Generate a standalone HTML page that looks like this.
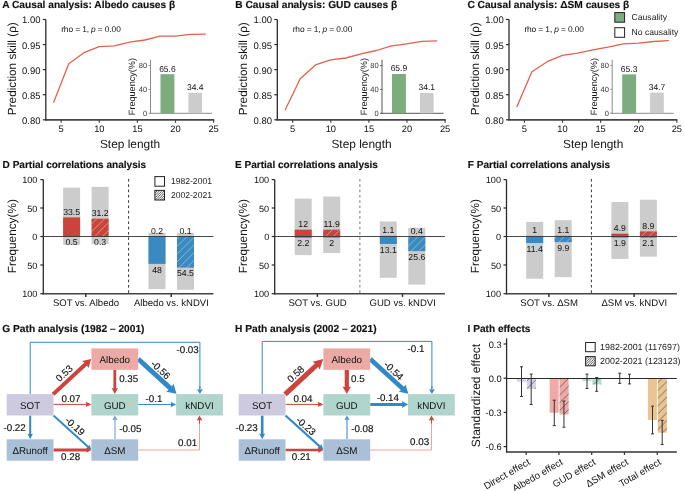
<!DOCTYPE html>
<html><head><meta charset="utf-8"><style>
html,body{margin:0;padding:0;background:#fff;}
svg{display:block;will-change:transform;}
text{font-family:"Liberation Sans", sans-serif;text-rendering:geometricPrecision;}
text.sk{stroke:#111;stroke-width:0.15px;}
</style></head><body>
<svg width="685" height="491" viewBox="0 0 685 491" font-family='"Liberation Sans", sans-serif'>
<rect width="685" height="491" fill="#fff"/>
<defs>
<pattern id="hw" patternUnits="userSpaceOnUse" width="7.7" height="7.7" patternTransform="rotate(0)">
<path d="M-1,8.7 L8.7,-1 M-1,1 L1,-1 M6.7,8.7 L8.7,6.7" stroke="rgba(255,255,255,0.62)" stroke-width="0.65"/>
</pattern>
<pattern id="hi" patternUnits="userSpaceOnUse" width="7.8" height="7.8" x="0.6" y="2.5">
<path d="M-1,8.8 L8.8,-1 M-1,1 L1,-1 M6.8,8.8 L8.8,6.8" stroke="rgba(40,40,40,0.7)" stroke-width="0.8"/>
</pattern>
<pattern id="hd" patternUnits="userSpaceOnUse" width="2.4" height="2.4">
<rect width="2.4" height="2.4" fill="#fff"/>
<path d="M-0.5,2.9 L2.9,-0.5 M-0.5,0.5 L0.5,-0.5 M1.9,2.9 L2.9,1.9" stroke="#333" stroke-width="0.8"/>
</pattern>
</defs>
<text x="2.20" y="7.55" font-size="10.2" text-anchor="start" font-weight="bold" class="sk" fill="#111">A Causal analysis: Albedo causes β</text>
<line x1="45.80" y1="19.50" x2="45.80" y2="120.60" stroke="#2a2a2a" stroke-width="1.3"/>
<line x1="45.20" y1="119.80" x2="214.20" y2="119.80" stroke="#444" stroke-width="1.7"/>
<line x1="42.80" y1="19.50" x2="45.80" y2="19.50" stroke="#2a2a2a" stroke-width="1.2"/>
<text x="40.50" y="23.45" font-size="9.5" text-anchor="end" fill="#111">1.00</text>
<line x1="42.80" y1="44.58" x2="45.80" y2="44.58" stroke="#2a2a2a" stroke-width="1.2"/>
<text x="40.50" y="48.53" font-size="9.5" text-anchor="end" fill="#111">0.95</text>
<line x1="42.80" y1="69.65" x2="45.80" y2="69.65" stroke="#2a2a2a" stroke-width="1.2"/>
<text x="40.50" y="73.60" font-size="9.5" text-anchor="end" fill="#111">0.90</text>
<line x1="42.80" y1="94.72" x2="45.80" y2="94.72" stroke="#2a2a2a" stroke-width="1.2"/>
<text x="40.50" y="98.67" font-size="9.5" text-anchor="end" fill="#111">0.85</text>
<line x1="42.80" y1="119.80" x2="45.80" y2="119.80" stroke="#2a2a2a" stroke-width="1.2"/>
<text x="40.50" y="123.75" font-size="9.5" text-anchor="end" fill="#111">0.80</text>
<line x1="61.20" y1="119.80" x2="61.20" y2="122.80" stroke="#444" stroke-width="1.2"/>
<text x="61.20" y="132.00" font-size="9.3" text-anchor="middle" fill="#111">5</text>
<line x1="99.30" y1="119.80" x2="99.30" y2="122.80" stroke="#444" stroke-width="1.2"/>
<text x="99.30" y="132.00" font-size="9.3" text-anchor="middle" fill="#111">10</text>
<line x1="137.40" y1="119.80" x2="137.40" y2="122.80" stroke="#444" stroke-width="1.2"/>
<text x="137.40" y="132.00" font-size="9.3" text-anchor="middle" fill="#111">15</text>
<line x1="175.50" y1="119.80" x2="175.50" y2="122.80" stroke="#444" stroke-width="1.2"/>
<text x="175.50" y="132.00" font-size="9.3" text-anchor="middle" fill="#111">20</text>
<line x1="213.60" y1="119.80" x2="213.60" y2="122.80" stroke="#444" stroke-width="1.2"/>
<text x="213.60" y="132.00" font-size="9.3" text-anchor="middle" fill="#111">25</text>
<text x="130.00" y="148.00" font-size="11.9" text-anchor="middle" fill="#111" class="big">Step length</text>
<text x="16.30" y="68.70" font-size="11.75" text-anchor="middle" fill="#111" transform="rotate(-90 16.30 68.70)" class="big">Prediction skill (ρ)</text>
<polyline points="53.50,102.70 68.72,63.80 83.94,52.70 99.16,46.60 114.38,45.80 129.60,42.20 144.82,40.00 160.04,36.10 175.26,36.10 190.48,34.40 205.70,34.10" fill="none" stroke="#e5604c" stroke-width="1.3" stroke-linejoin="round"/>
<text x="61.20" y="31.7" font-size="8.4" fill="#111" textLength="59.6" lengthAdjust="spacing">rho = 1, <tspan font-style="italic">p</tspan> = 0.00</text>
<line x1="150.50" y1="59.80" x2="150.50" y2="113.80" stroke="#8a8a8a" stroke-width="1.0"/>
<line x1="150.00" y1="113.30" x2="212.00" y2="113.30" stroke="#8a8a8a" stroke-width="1.0"/>
<line x1="148.50" y1="113.30" x2="150.50" y2="113.30" stroke="#8a8a8a" stroke-width="0.9"/>
<text x="147.20" y="116.10" font-size="7.5" text-anchor="end" fill="#333">0</text>
<line x1="148.50" y1="89.45" x2="150.50" y2="89.45" stroke="#8a8a8a" stroke-width="0.9"/>
<text x="147.20" y="92.25" font-size="7.5" text-anchor="end" fill="#333">40</text>
<line x1="148.50" y1="65.60" x2="150.50" y2="65.60" stroke="#8a8a8a" stroke-width="0.9"/>
<text x="147.20" y="68.40" font-size="7.5" text-anchor="end" fill="#333">80</text>
<rect x="160.50" y="74.19" width="13.90" height="39.11" fill="#7dac7e"/>
<rect x="188.40" y="92.79" width="13.70" height="20.51" fill="#cccccc"/>
<text x="167.40" y="71.59" font-size="8.5" text-anchor="middle" fill="#111">65.6</text>
<text x="195.30" y="89.99" font-size="8.5" text-anchor="middle" fill="#111">34.4</text>
<text x="135.20" y="86.60" font-size="9.1" text-anchor="middle" fill="#111" transform="rotate(-90 135.20 86.60)">Frequency(%)</text>
<text x="235.30" y="7.55" font-size="10.2" text-anchor="start" font-weight="bold" class="sk" fill="#111">B Causal analysis: GUD causes β</text>
<line x1="277.30" y1="19.50" x2="277.30" y2="120.60" stroke="#2a2a2a" stroke-width="1.3"/>
<line x1="276.70" y1="119.80" x2="445.70" y2="119.80" stroke="#444" stroke-width="1.7"/>
<line x1="274.30" y1="19.50" x2="277.30" y2="19.50" stroke="#2a2a2a" stroke-width="1.2"/>
<text x="272.00" y="23.45" font-size="9.5" text-anchor="end" fill="#111">1.00</text>
<line x1="274.30" y1="44.58" x2="277.30" y2="44.58" stroke="#2a2a2a" stroke-width="1.2"/>
<text x="272.00" y="48.53" font-size="9.5" text-anchor="end" fill="#111">0.95</text>
<line x1="274.30" y1="69.65" x2="277.30" y2="69.65" stroke="#2a2a2a" stroke-width="1.2"/>
<text x="272.00" y="73.60" font-size="9.5" text-anchor="end" fill="#111">0.90</text>
<line x1="274.30" y1="94.72" x2="277.30" y2="94.72" stroke="#2a2a2a" stroke-width="1.2"/>
<text x="272.00" y="98.67" font-size="9.5" text-anchor="end" fill="#111">0.85</text>
<line x1="274.30" y1="119.80" x2="277.30" y2="119.80" stroke="#2a2a2a" stroke-width="1.2"/>
<text x="272.00" y="123.75" font-size="9.5" text-anchor="end" fill="#111">0.80</text>
<line x1="292.70" y1="119.80" x2="292.70" y2="122.80" stroke="#444" stroke-width="1.2"/>
<text x="292.70" y="132.00" font-size="9.3" text-anchor="middle" fill="#111">5</text>
<line x1="330.80" y1="119.80" x2="330.80" y2="122.80" stroke="#444" stroke-width="1.2"/>
<text x="330.80" y="132.00" font-size="9.3" text-anchor="middle" fill="#111">10</text>
<line x1="368.90" y1="119.80" x2="368.90" y2="122.80" stroke="#444" stroke-width="1.2"/>
<text x="368.90" y="132.00" font-size="9.3" text-anchor="middle" fill="#111">15</text>
<line x1="407.00" y1="119.80" x2="407.00" y2="122.80" stroke="#444" stroke-width="1.2"/>
<text x="407.00" y="132.00" font-size="9.3" text-anchor="middle" fill="#111">20</text>
<line x1="445.10" y1="119.80" x2="445.10" y2="122.80" stroke="#444" stroke-width="1.2"/>
<text x="445.10" y="132.00" font-size="9.3" text-anchor="middle" fill="#111">25</text>
<text x="361.50" y="148.00" font-size="11.9" text-anchor="middle" fill="#111" class="big">Step length</text>
<text x="246.90" y="68.70" font-size="11.75" text-anchor="middle" fill="#111" transform="rotate(-90 246.90 68.70)" class="big">Prediction skill (ρ)</text>
<polyline points="285.00,110.20 300.22,78.80 315.44,64.90 330.66,59.90 345.88,58.00 361.10,53.80 376.32,50.50 391.54,45.80 406.76,43.90 421.98,41.40 437.20,40.80" fill="none" stroke="#e5604c" stroke-width="1.3" stroke-linejoin="round"/>
<text x="292.70" y="31.7" font-size="8.4" fill="#111" textLength="59.6" lengthAdjust="spacing">rho = 1, <tspan font-style="italic">p</tspan> = 0.00</text>
<line x1="382.00" y1="59.80" x2="382.00" y2="113.80" stroke="#555" stroke-width="1.0"/>
<line x1="381.50" y1="113.30" x2="443.50" y2="113.30" stroke="#555" stroke-width="1.0"/>
<line x1="380.00" y1="113.30" x2="382.00" y2="113.30" stroke="#555" stroke-width="0.9"/>
<text x="378.70" y="116.10" font-size="7.5" text-anchor="end" fill="#333">0</text>
<line x1="380.00" y1="89.45" x2="382.00" y2="89.45" stroke="#555" stroke-width="0.9"/>
<text x="378.70" y="92.25" font-size="7.5" text-anchor="end" fill="#333">40</text>
<line x1="380.00" y1="65.60" x2="382.00" y2="65.60" stroke="#555" stroke-width="0.9"/>
<text x="378.70" y="68.40" font-size="7.5" text-anchor="end" fill="#333">80</text>
<rect x="392.00" y="74.01" width="13.90" height="39.29" fill="#7dac7e"/>
<rect x="419.90" y="92.97" width="13.70" height="20.33" fill="#cccccc"/>
<text x="398.90" y="71.41" font-size="8.5" text-anchor="middle" fill="#111">65.9</text>
<text x="426.80" y="90.17" font-size="8.5" text-anchor="middle" fill="#111">34.1</text>
<text x="366.70" y="86.60" font-size="9.1" text-anchor="middle" fill="#111" transform="rotate(-90 366.70 86.60)">Frequency(%)</text>
<text x="467.40" y="7.55" font-size="10.2" text-anchor="start" font-weight="bold" class="sk" fill="#111">C Causal analysis: ΔSM causes β</text>
<line x1="509.00" y1="19.50" x2="509.00" y2="120.60" stroke="#2a2a2a" stroke-width="1.3"/>
<line x1="508.40" y1="119.80" x2="677.40" y2="119.80" stroke="#444" stroke-width="1.7"/>
<line x1="506.00" y1="19.50" x2="509.00" y2="19.50" stroke="#2a2a2a" stroke-width="1.2"/>
<text x="503.70" y="23.45" font-size="9.5" text-anchor="end" fill="#111">1.00</text>
<line x1="506.00" y1="44.58" x2="509.00" y2="44.58" stroke="#2a2a2a" stroke-width="1.2"/>
<text x="503.70" y="48.53" font-size="9.5" text-anchor="end" fill="#111">0.95</text>
<line x1="506.00" y1="69.65" x2="509.00" y2="69.65" stroke="#2a2a2a" stroke-width="1.2"/>
<text x="503.70" y="73.60" font-size="9.5" text-anchor="end" fill="#111">0.90</text>
<line x1="506.00" y1="94.72" x2="509.00" y2="94.72" stroke="#2a2a2a" stroke-width="1.2"/>
<text x="503.70" y="98.67" font-size="9.5" text-anchor="end" fill="#111">0.85</text>
<line x1="506.00" y1="119.80" x2="509.00" y2="119.80" stroke="#2a2a2a" stroke-width="1.2"/>
<text x="503.70" y="123.75" font-size="9.5" text-anchor="end" fill="#111">0.80</text>
<line x1="524.40" y1="119.80" x2="524.40" y2="122.80" stroke="#444" stroke-width="1.2"/>
<text x="524.40" y="132.00" font-size="9.3" text-anchor="middle" fill="#111">5</text>
<line x1="562.50" y1="119.80" x2="562.50" y2="122.80" stroke="#444" stroke-width="1.2"/>
<text x="562.50" y="132.00" font-size="9.3" text-anchor="middle" fill="#111">10</text>
<line x1="600.60" y1="119.80" x2="600.60" y2="122.80" stroke="#444" stroke-width="1.2"/>
<text x="600.60" y="132.00" font-size="9.3" text-anchor="middle" fill="#111">15</text>
<line x1="638.70" y1="119.80" x2="638.70" y2="122.80" stroke="#444" stroke-width="1.2"/>
<text x="638.70" y="132.00" font-size="9.3" text-anchor="middle" fill="#111">20</text>
<line x1="676.80" y1="119.80" x2="676.80" y2="122.80" stroke="#444" stroke-width="1.2"/>
<text x="676.80" y="132.00" font-size="9.3" text-anchor="middle" fill="#111">25</text>
<text x="593.20" y="148.00" font-size="11.9" text-anchor="middle" fill="#111" class="big">Step length</text>
<text x="478.60" y="68.70" font-size="11.75" text-anchor="middle" fill="#111" transform="rotate(-90 478.60 68.70)" class="big">Prediction skill (ρ)</text>
<polyline points="516.70,107.10 531.92,71.80 547.14,61.70 562.36,55.30 577.58,53.20 592.80,49.80 608.02,47.10 623.24,43.90 638.46,43.10 653.68,41.50 668.90,40.70" fill="none" stroke="#e5604c" stroke-width="1.3" stroke-linejoin="round"/>
<text x="524.40" y="31.7" font-size="8.4" fill="#111" textLength="59.6" lengthAdjust="spacing">rho = 1, <tspan font-style="italic">p</tspan> = 0.00</text>
<line x1="612.20" y1="59.80" x2="612.20" y2="113.80" stroke="#8a8a8a" stroke-width="1.0"/>
<line x1="611.70" y1="113.30" x2="673.70" y2="113.30" stroke="#8a8a8a" stroke-width="1.0"/>
<line x1="610.20" y1="113.30" x2="612.20" y2="113.30" stroke="#8a8a8a" stroke-width="0.9"/>
<text x="608.90" y="116.10" font-size="7.5" text-anchor="end" fill="#333">0</text>
<line x1="610.20" y1="89.45" x2="612.20" y2="89.45" stroke="#8a8a8a" stroke-width="0.9"/>
<text x="608.90" y="92.25" font-size="7.5" text-anchor="end" fill="#333">40</text>
<line x1="610.20" y1="65.60" x2="612.20" y2="65.60" stroke="#8a8a8a" stroke-width="0.9"/>
<text x="608.90" y="68.40" font-size="7.5" text-anchor="end" fill="#333">80</text>
<rect x="622.20" y="74.36" width="13.90" height="38.94" fill="#7dac7e"/>
<rect x="650.10" y="92.61" width="13.70" height="20.69" fill="#cccccc"/>
<text x="629.10" y="71.76" font-size="8.5" text-anchor="middle" fill="#111">65.3</text>
<text x="657.00" y="89.81" font-size="8.5" text-anchor="middle" fill="#111">34.7</text>
<text x="596.90" y="86.60" font-size="9.1" text-anchor="middle" fill="#111" transform="rotate(-90 596.90 86.60)">Frequency(%)</text>
<rect x="614.8" y="12.6" width="9.8" height="9.6" fill="#7dac7e" stroke="#222" stroke-width="1"/>
<rect x="614.8" y="27.7" width="9.8" height="9.6" fill="#fff" stroke="#222" stroke-width="1"/>
<text x="631.60" y="19.60" font-size="8.6" text-anchor="start" fill="#222">Causality</text>
<text x="631.60" y="35.00" font-size="8.6" text-anchor="start" fill="#222">No causality</text>
<text x="2.60" y="167.50" font-size="10.05" text-anchor="start" font-weight="bold" class="sk" fill="#111">D Partial correlations analysis</text>
<rect x="63.10" y="187.61" width="17.00" height="57.22" fill="#cccccc"/>
<rect x="63.10" y="217.39" width="17.00" height="19.11" fill="#c9443b"/>
<rect x="63.10" y="236.50" width="17.00" height="0.29" fill="#3a89c0"/>
<text x="71.60" y="214.69" font-size="8.7" text-anchor="middle" fill="#111">33.5</text>
<text x="71.60" y="245.49" font-size="8.7" text-anchor="middle" fill="#111">0.5</text>
<rect x="91.60" y="186.81" width="17.00" height="57.11" fill="#cccccc"/>
<rect x="91.60" y="218.70" width="17.00" height="17.80" fill="#c9443b"/>
<rect x="91.60" y="236.50" width="17.00" height="0.17" fill="#3a89c0"/>
<rect x="91.60" y="218.70" width="17.00" height="17.80" fill="url(#hw)"/>
<rect x="91.60" y="236.50" width="17.00" height="0.17" fill="url(#hw)"/>
<text x="100.10" y="216.00" font-size="8.7" text-anchor="middle" fill="#111">31.2</text>
<text x="100.10" y="245.37" font-size="8.7" text-anchor="middle" fill="#111">0.3</text>
<rect x="148.50" y="232.73" width="17.00" height="56.42" fill="#cccccc"/>
<rect x="148.50" y="236.39" width="17.00" height="0.11" fill="#c9443b"/>
<rect x="148.50" y="236.50" width="17.00" height="27.38" fill="#3a89c0"/>
<text x="157.00" y="233.69" font-size="8.7" text-anchor="middle" fill="#111">0.2</text>
<text x="157.00" y="272.58" font-size="8.7" text-anchor="middle" fill="#111">48</text>
<rect x="177.00" y="232.73" width="17.00" height="57.05" fill="#cccccc"/>
<rect x="177.00" y="236.44" width="17.00" height="0.06" fill="#c9443b"/>
<rect x="177.00" y="236.50" width="17.00" height="31.09" fill="#3a89c0"/>
<rect x="177.00" y="236.44" width="17.00" height="0.06" fill="url(#hw)"/>
<rect x="177.00" y="236.50" width="17.00" height="31.09" fill="url(#hw)"/>
<text x="185.50" y="233.74" font-size="8.7" text-anchor="middle" fill="#111">0.1</text>
<text x="185.50" y="276.29" font-size="8.7" text-anchor="middle" fill="#111">54.5</text>
<line x1="43.30" y1="179.60" x2="43.30" y2="294.40" stroke="#2a2a2a" stroke-width="1.3"/>
<line x1="42.70" y1="293.70" x2="213.40" y2="293.70" stroke="#444" stroke-width="1.5"/>
<line x1="43.30" y1="236.50" x2="213.40" y2="236.50" stroke="#333" stroke-width="0.9"/>
<line x1="40.30" y1="179.60" x2="43.30" y2="179.60" stroke="#2a2a2a" stroke-width="1.2"/>
<text x="37.40" y="183.20" font-size="9.1" text-anchor="end" fill="#111">100</text>
<line x1="40.30" y1="208.00" x2="43.30" y2="208.00" stroke="#2a2a2a" stroke-width="1.2"/>
<text x="37.40" y="211.60" font-size="9.1" text-anchor="end" fill="#111">50</text>
<line x1="40.30" y1="236.50" x2="43.30" y2="236.50" stroke="#2a2a2a" stroke-width="1.2"/>
<text x="37.40" y="240.10" font-size="9.1" text-anchor="end" fill="#111">0</text>
<line x1="40.30" y1="265.00" x2="43.30" y2="265.00" stroke="#2a2a2a" stroke-width="1.2"/>
<text x="37.40" y="268.60" font-size="9.1" text-anchor="end" fill="#111">50</text>
<line x1="40.30" y1="293.70" x2="43.30" y2="293.70" stroke="#2a2a2a" stroke-width="1.2"/>
<text x="37.40" y="297.30" font-size="9.1" text-anchor="end" fill="#111">100</text>
<line x1="128.60" y1="179.00" x2="128.60" y2="293.70" stroke="#333" stroke-width="1.0" stroke-dasharray="2.6 2.7"/>
<line x1="85.80" y1="293.70" x2="85.80" y2="296.90" stroke="#333" stroke-width="1.5"/>
<text x="86.00" y="305.90" font-size="9.55" text-anchor="middle" fill="#111">SOT vs. Albedo</text>
<line x1="171.20" y1="293.70" x2="171.20" y2="296.90" stroke="#333" stroke-width="1.5"/>
<text x="171.40" y="305.90" font-size="9.55" text-anchor="middle" fill="#111">Albedo vs. kNDVI</text>
<text x="15.70" y="236.20" font-size="11.8" text-anchor="middle" fill="#111" transform="rotate(-90 15.70 236.20)" class="big">Frequency(%)</text>
<text x="235.00" y="167.50" font-size="10.05" text-anchor="start" font-weight="bold" class="sk" fill="#111">E Partial correlations analysis</text>
<rect x="294.70" y="198.62" width="17.00" height="56.48" fill="#cccccc"/>
<rect x="294.70" y="229.65" width="17.00" height="6.85" fill="#c9443b"/>
<rect x="294.70" y="236.50" width="17.00" height="1.26" fill="#3a89c0"/>
<text x="303.20" y="226.95" font-size="8.7" text-anchor="middle" fill="#111">12</text>
<text x="303.20" y="246.46" font-size="8.7" text-anchor="middle" fill="#111">2.2</text>
<rect x="323.20" y="196.56" width="17.00" height="56.48" fill="#cccccc"/>
<rect x="323.20" y="229.71" width="17.00" height="6.79" fill="#c9443b"/>
<rect x="323.20" y="236.50" width="17.00" height="1.14" fill="#3a89c0"/>
<rect x="323.20" y="229.71" width="17.00" height="6.79" fill="url(#hw)"/>
<rect x="323.20" y="236.50" width="17.00" height="1.14" fill="url(#hw)"/>
<text x="331.70" y="227.01" font-size="8.7" text-anchor="middle" fill="#111">11.9</text>
<text x="331.70" y="246.34" font-size="8.7" text-anchor="middle" fill="#111">2</text>
<rect x="379.80" y="221.44" width="17.00" height="56.37" fill="#cccccc"/>
<rect x="379.80" y="235.87" width="17.00" height="0.63" fill="#c9443b"/>
<rect x="379.80" y="236.50" width="17.00" height="7.47" fill="#3a89c0"/>
<text x="388.30" y="233.17" font-size="8.7" text-anchor="middle" fill="#111">1.1</text>
<text x="388.30" y="252.67" font-size="8.7" text-anchor="middle" fill="#111">13.1</text>
<rect x="408.30" y="227.71" width="17.00" height="56.88" fill="#cccccc"/>
<rect x="408.30" y="236.27" width="17.00" height="0.23" fill="#c9443b"/>
<rect x="408.30" y="236.50" width="17.00" height="14.60" fill="#3a89c0"/>
<rect x="408.30" y="236.27" width="17.00" height="0.23" fill="url(#hw)"/>
<rect x="408.30" y="236.50" width="17.00" height="14.60" fill="url(#hw)"/>
<text x="416.80" y="233.57" font-size="8.7" text-anchor="middle" fill="#111">0.4</text>
<text x="416.80" y="259.80" font-size="8.7" text-anchor="middle" fill="#111">25.6</text>
<line x1="274.70" y1="179.60" x2="274.70" y2="294.40" stroke="#2a2a2a" stroke-width="1.3"/>
<line x1="274.10" y1="293.70" x2="444.90" y2="293.70" stroke="#444" stroke-width="1.5"/>
<line x1="274.70" y1="236.50" x2="444.90" y2="236.50" stroke="#333" stroke-width="0.9"/>
<line x1="271.70" y1="179.60" x2="274.70" y2="179.60" stroke="#2a2a2a" stroke-width="1.2"/>
<text x="269.20" y="183.20" font-size="9.1" text-anchor="end" fill="#111">100</text>
<line x1="271.70" y1="208.00" x2="274.70" y2="208.00" stroke="#2a2a2a" stroke-width="1.2"/>
<text x="269.20" y="211.60" font-size="9.1" text-anchor="end" fill="#111">50</text>
<line x1="271.70" y1="236.50" x2="274.70" y2="236.50" stroke="#2a2a2a" stroke-width="1.2"/>
<text x="269.20" y="240.10" font-size="9.1" text-anchor="end" fill="#111">0</text>
<line x1="271.70" y1="265.00" x2="274.70" y2="265.00" stroke="#2a2a2a" stroke-width="1.2"/>
<text x="269.20" y="268.60" font-size="9.1" text-anchor="end" fill="#111">50</text>
<line x1="271.70" y1="293.70" x2="274.70" y2="293.70" stroke="#2a2a2a" stroke-width="1.2"/>
<text x="269.20" y="297.30" font-size="9.1" text-anchor="end" fill="#111">100</text>
<line x1="359.80" y1="179.00" x2="359.80" y2="293.70" stroke="#aaa" stroke-width="1.6" stroke-dasharray="2.6 2.7"/>
<line x1="317.40" y1="293.70" x2="317.40" y2="296.90" stroke="#333" stroke-width="1.5"/>
<text x="317.60" y="305.90" font-size="9.55" text-anchor="middle" fill="#111">SOT vs. GUD</text>
<line x1="402.50" y1="293.70" x2="402.50" y2="296.90" stroke="#333" stroke-width="1.5"/>
<text x="402.70" y="305.90" font-size="9.55" text-anchor="middle" fill="#111">GUD vs. kNDVI</text>
<text x="246.80" y="236.20" font-size="11.8" text-anchor="middle" fill="#111" transform="rotate(-90 246.80 236.20)" class="big">Frequency(%)</text>
<text x="467.80" y="167.50" font-size="10.05" text-anchor="start" font-weight="bold" class="sk" fill="#111">F Partial correlations analysis</text>
<rect x="526.20" y="221.90" width="17.00" height="56.82" fill="#cccccc"/>
<rect x="526.20" y="235.93" width="17.00" height="0.57" fill="#c9443b"/>
<rect x="526.20" y="236.50" width="17.00" height="6.50" fill="#3a89c0"/>
<text x="534.70" y="233.23" font-size="8.7" text-anchor="middle" fill="#111">1</text>
<text x="534.70" y="251.70" font-size="8.7" text-anchor="middle" fill="#111">11.4</text>
<rect x="554.70" y="220.18" width="17.00" height="56.94" fill="#cccccc"/>
<rect x="554.70" y="235.87" width="17.00" height="0.63" fill="#c9443b"/>
<rect x="554.70" y="236.50" width="17.00" height="5.65" fill="#3a89c0"/>
<rect x="554.70" y="235.87" width="17.00" height="0.63" fill="url(#hw)"/>
<rect x="554.70" y="236.50" width="17.00" height="5.65" fill="url(#hw)"/>
<text x="563.20" y="233.17" font-size="8.7" text-anchor="middle" fill="#111">1.1</text>
<text x="563.20" y="250.85" font-size="8.7" text-anchor="middle" fill="#111">9.9</text>
<rect x="611.40" y="201.98" width="17.00" height="56.94" fill="#cccccc"/>
<rect x="611.40" y="233.70" width="17.00" height="2.80" fill="#c9443b"/>
<rect x="611.40" y="236.50" width="17.00" height="1.08" fill="#3a89c0"/>
<text x="619.90" y="231.00" font-size="8.7" text-anchor="middle" fill="#111">4.9</text>
<text x="619.90" y="246.28" font-size="8.7" text-anchor="middle" fill="#111">1.9</text>
<rect x="639.90" y="199.70" width="17.00" height="56.94" fill="#cccccc"/>
<rect x="639.90" y="231.42" width="17.00" height="5.08" fill="#c9443b"/>
<rect x="639.90" y="236.50" width="17.00" height="1.20" fill="#3a89c0"/>
<rect x="639.90" y="231.42" width="17.00" height="5.08" fill="url(#hw)"/>
<rect x="639.90" y="236.50" width="17.00" height="1.20" fill="url(#hw)"/>
<text x="648.40" y="228.72" font-size="8.7" text-anchor="middle" fill="#111">8.9</text>
<text x="648.40" y="246.40" font-size="8.7" text-anchor="middle" fill="#111">2.1</text>
<line x1="506.50" y1="179.60" x2="506.50" y2="294.40" stroke="#2a2a2a" stroke-width="1.3"/>
<line x1="505.90" y1="293.70" x2="676.90" y2="293.70" stroke="#444" stroke-width="1.5"/>
<line x1="506.50" y1="236.50" x2="676.90" y2="236.50" stroke="#333" stroke-width="0.9"/>
<line x1="503.50" y1="179.60" x2="506.50" y2="179.60" stroke="#2a2a2a" stroke-width="1.2"/>
<text x="501.00" y="183.20" font-size="9.1" text-anchor="end" fill="#111">100</text>
<line x1="503.50" y1="208.00" x2="506.50" y2="208.00" stroke="#2a2a2a" stroke-width="1.2"/>
<text x="501.00" y="211.60" font-size="9.1" text-anchor="end" fill="#111">50</text>
<line x1="503.50" y1="236.50" x2="506.50" y2="236.50" stroke="#2a2a2a" stroke-width="1.2"/>
<text x="501.00" y="240.10" font-size="9.1" text-anchor="end" fill="#111">0</text>
<line x1="503.50" y1="265.00" x2="506.50" y2="265.00" stroke="#2a2a2a" stroke-width="1.2"/>
<text x="501.00" y="268.60" font-size="9.1" text-anchor="end" fill="#111">50</text>
<line x1="503.50" y1="293.70" x2="506.50" y2="293.70" stroke="#2a2a2a" stroke-width="1.2"/>
<text x="501.00" y="297.30" font-size="9.1" text-anchor="end" fill="#111">100</text>
<line x1="591.40" y1="179.00" x2="591.40" y2="293.70" stroke="#333" stroke-width="1.0" stroke-dasharray="2.6 2.7"/>
<line x1="548.90" y1="293.70" x2="548.90" y2="296.90" stroke="#333" stroke-width="1.5"/>
<text x="549.10" y="305.90" font-size="9.55" text-anchor="middle" fill="#111">SOT vs. ΔSM</text>
<line x1="634.10" y1="293.70" x2="634.10" y2="296.90" stroke="#333" stroke-width="1.5"/>
<text x="634.30" y="305.90" font-size="9.55" text-anchor="middle" fill="#111">ΔSM vs. kNDVI</text>
<text x="478.80" y="236.20" font-size="11.8" text-anchor="middle" fill="#111" transform="rotate(-90 478.80 236.20)" class="big">Frequency(%)</text>
<rect x="154.9" y="176.6" width="9.6" height="9.6" fill="#fff" stroke="#222" stroke-width="1"/>
<rect x="154.9" y="190.4" width="9.6" height="9.6" fill="url(#hd)" stroke="#222" stroke-width="1"/>
<text x="170.90" y="184.10" font-size="8.6" text-anchor="start" fill="#222">1982-2001</text>
<text x="170.90" y="197.90" font-size="8.6" text-anchor="start" fill="#222">2002-2021</text>
<text x="2.30" y="332.00" font-size="10.2" text-anchor="start" font-weight="bold" class="sk" fill="#111">G Path analysis (1982 – 2001)</text>
<polyline points="30.20,394.10 30.20,342.30 199.90,342.30 199.90,389.10" fill="none" stroke="#3189c8" stroke-width="1.0"/>
<line x1="199.90" y1="386.10" x2="199.90" y2="390.85" stroke="#3189c8" stroke-width="1.0"/>
<polygon points="199.90,394.10 197.10,389.10 199.90,389.70 202.70,389.10" fill="#3189c8"/>
<polyline points="138.20,450.00 199.50,450.00 199.50,420.50" fill="none" stroke="#eea3a0" stroke-width="1.0"/>
<line x1="199.50" y1="423.50" x2="199.50" y2="418.75" stroke="#cc443c" stroke-width="1.0"/>
<polygon points="199.50,415.50 202.30,420.50 199.50,419.90 196.70,420.50" fill="#cc443c"/>
<line x1="53.00" y1="394.40" x2="87.39" y2="362.53" stroke="#cc443c" stroke-width="4.0"/>
<polygon points="91.20,359.00 88.56,367.92 86.04,363.79 82.10,360.95" fill="#cc443c"/>
<line x1="53.50" y1="404.40" x2="87.76" y2="404.40" stroke="#cc443c" stroke-width="1.0"/>
<polygon points="91.40,404.40 85.80,407.10 86.47,404.40 85.80,401.70" fill="#cc443c"/>
<line x1="114.80" y1="369.80" x2="114.80" y2="390.20" stroke="#cc443c" stroke-width="2.8"/>
<polygon points="114.80,394.10 111.55,388.10 114.80,388.82 118.05,388.10" fill="#cc443c"/>
<line x1="138.20" y1="359.00" x2="172.17" y2="389.87" stroke="#3189c8" stroke-width="4.8"/>
<polygon points="176.50,393.80 166.14,391.82 170.64,388.47 173.54,383.68" fill="#3189c8"/>
<line x1="138.20" y1="404.50" x2="172.46" y2="404.50" stroke="#3189c8" stroke-width="1.1"/>
<polygon points="176.10,404.50 170.50,407.20 171.17,404.50 170.50,401.80" fill="#3189c8"/>
<line x1="30.20" y1="415.50" x2="30.20" y2="435.66" stroke="#3189c8" stroke-width="2.0"/>
<polygon points="30.20,439.30 27.45,433.70 30.20,434.37 32.95,433.70" fill="#3189c8"/>
<line x1="53.50" y1="415.50" x2="89.09" y2="447.71" stroke="#3189c8" stroke-width="1.9"/>
<polygon points="91.40,449.80 86.10,448.51 88.27,446.97 89.59,444.65" fill="#3189c8"/>
<line x1="53.50" y1="450.00" x2="88.15" y2="450.00" stroke="#cc443c" stroke-width="2.8"/>
<polygon points="91.40,450.00 86.40,452.70 87.00,450.00 86.40,447.30" fill="#cc443c"/>
<line x1="115.00" y1="439.30" x2="115.00" y2="418.49" stroke="#6aa6da" stroke-width="1.1"/>
<polygon points="115.00,415.50 117.70,420.10 115.00,419.55 112.30,420.10" fill="#6aa6da"/>
<rect x="6.70" y="394.10" width="46.80" height="21.40" fill="#cdc9df"/>
<text x="30.10" y="408.70" font-size="9.8" text-anchor="middle" fill="#111">SOT</text>
<rect x="91.40" y="348.40" width="46.80" height="21.40" fill="#ecaaa6"/>
<text x="114.80" y="363.00" font-size="9.8" text-anchor="middle" fill="#111">Albedo</text>
<rect x="91.40" y="394.10" width="46.80" height="21.40" fill="#b0d5cc"/>
<text x="114.80" y="408.70" font-size="9.8" text-anchor="middle" fill="#111">GUD</text>
<rect x="176.10" y="394.10" width="46.80" height="21.40" fill="#b0d5cc"/>
<text x="199.50" y="408.70" font-size="9.8" text-anchor="middle" fill="#111">kNDVI</text>
<rect x="6.70" y="439.30" width="46.80" height="21.40" fill="#aac0d7"/>
<text x="30.10" y="453.90" font-size="9.8" text-anchor="middle" fill="#111">ΔRunoff</text>
<rect x="91.40" y="439.30" width="46.80" height="21.40" fill="#aac0d7"/>
<text x="114.80" y="453.90" font-size="9.8" text-anchor="middle" fill="#111">ΔSM</text>
<text x="0" y="3.3" font-size="9.8" text-anchor="middle" fill="#111" class="sk" transform="translate(64.30 373.40) rotate(-43)">0.53</text>
<text x="71.00" y="402.30" font-size="9.8" text-anchor="middle" fill="#111" class="sk">0.07</text>
<text x="128.70" y="381.60" font-size="9.8" text-anchor="middle" fill="#111" class="sk">0.35</text>
<text x="0" y="3.3" font-size="9.8" text-anchor="middle" fill="#111" class="sk" transform="translate(160.70 369.90) rotate(43)">-0.56</text>
<text x="154.00" y="402.10" font-size="9.8" text-anchor="middle" fill="#111" class="sk">-0.1</text>
<text x="187.60" y="353.20" font-size="9.8" text-anchor="middle" fill="#111" class="sk">-0.03</text>
<text x="14.60" y="430.70" font-size="9.8" text-anchor="middle" fill="#111" class="sk">-0.22</text>
<text x="0" y="3.3" font-size="9.8" text-anchor="middle" fill="#111" class="sk" transform="translate(74.90 426.30) rotate(42)">-0.19</text>
<text x="70.60" y="460.20" font-size="9.8" text-anchor="middle" fill="#111" class="sk">0.28</text>
<text x="130.30" y="431.80" font-size="9.8" text-anchor="middle" fill="#111" class="sk">-0.05</text>
<text x="187.60" y="446.10" font-size="9.8" text-anchor="middle" fill="#111" class="sk">0.01</text>
<text x="235.00" y="332.00" font-size="10.2" text-anchor="start" font-weight="bold" class="sk" fill="#111">H Path analysis (2002 – 2021)</text>
<polyline points="262.20,394.10 262.20,341.40 431.90,341.40 431.90,389.10" fill="none" stroke="#3189c8" stroke-width="1.0"/>
<line x1="431.90" y1="386.10" x2="431.90" y2="390.85" stroke="#3189c8" stroke-width="1.0"/>
<polygon points="431.90,394.10 429.10,389.10 431.90,389.70 434.70,389.10" fill="#3189c8"/>
<polyline points="370.20,450.00 431.50,450.00 431.50,420.50" fill="none" stroke="#eea3a0" stroke-width="1.0"/>
<line x1="431.50" y1="423.50" x2="431.50" y2="418.75" stroke="#cc443c" stroke-width="1.0"/>
<polygon points="431.50,415.50 434.30,420.50 431.50,419.90 428.70,420.50" fill="#cc443c"/>
<line x1="285.00" y1="394.40" x2="318.62" y2="363.24" stroke="#cc443c" stroke-width="5.0"/>
<polygon points="323.20,359.00 319.73,369.38 317.00,364.74 312.59,361.67" fill="#cc443c"/>
<line x1="285.50" y1="404.40" x2="319.76" y2="404.40" stroke="#cc443c" stroke-width="1.0"/>
<polygon points="323.40,404.40 317.80,407.10 318.47,404.40 317.80,401.70" fill="#cc443c"/>
<line x1="346.80" y1="369.80" x2="346.80" y2="389.23" stroke="#cc443c" stroke-width="4.2"/>
<polygon points="346.80,394.10 342.55,386.60 346.80,387.50 351.05,386.60" fill="#cc443c"/>
<line x1="370.20" y1="359.00" x2="404.32" y2="390.08" stroke="#3189c8" stroke-width="4.6"/>
<polygon points="408.40,393.80 398.75,391.77 402.87,388.76 405.48,384.38" fill="#3189c8"/>
<line x1="370.20" y1="404.50" x2="404.10" y2="404.50" stroke="#3189c8" stroke-width="2.8"/>
<polygon points="408.00,404.50 402.00,408.00 402.72,404.50 402.00,401.00" fill="#3189c8"/>
<line x1="262.20" y1="415.50" x2="262.20" y2="435.53" stroke="#3189c8" stroke-width="2.6"/>
<polygon points="262.20,439.30 259.20,433.50 262.20,434.20 265.20,433.50" fill="#3189c8"/>
<line x1="285.50" y1="415.50" x2="320.75" y2="447.40" stroke="#3189c8" stroke-width="2.1"/>
<polygon points="323.40,449.80 317.31,448.33 319.81,446.55 321.34,443.89" fill="#3189c8"/>
<line x1="285.50" y1="450.00" x2="320.02" y2="450.00" stroke="#cc443c" stroke-width="2.6"/>
<polygon points="323.40,450.00 318.20,452.90 318.82,450.00 318.20,447.10" fill="#cc443c"/>
<line x1="347.00" y1="439.30" x2="347.00" y2="418.49" stroke="#4f97d2" stroke-width="1.2"/>
<polygon points="347.00,415.50 349.70,420.10 347.00,419.55 344.30,420.10" fill="#4f97d2"/>
<rect x="238.70" y="394.10" width="46.80" height="21.40" fill="#cdc9df"/>
<text x="262.10" y="408.70" font-size="9.8" text-anchor="middle" fill="#111">SOT</text>
<rect x="323.40" y="348.40" width="46.80" height="21.40" fill="#ecaaa6"/>
<text x="346.80" y="363.00" font-size="9.8" text-anchor="middle" fill="#111">Albedo</text>
<rect x="323.40" y="394.10" width="46.80" height="21.40" fill="#b0d5cc"/>
<text x="346.80" y="408.70" font-size="9.8" text-anchor="middle" fill="#111">GUD</text>
<rect x="408.00" y="394.10" width="46.80" height="21.40" fill="#b0d5cc"/>
<text x="431.40" y="408.70" font-size="9.8" text-anchor="middle" fill="#111">kNDVI</text>
<rect x="238.70" y="439.30" width="46.80" height="21.40" fill="#aac0d7"/>
<text x="262.10" y="453.90" font-size="9.8" text-anchor="middle" fill="#111">ΔRunoff</text>
<rect x="323.40" y="439.30" width="46.80" height="21.40" fill="#aac0d7"/>
<text x="346.80" y="453.90" font-size="9.8" text-anchor="middle" fill="#111">ΔSM</text>
<text x="0" y="3.3" font-size="9.8" text-anchor="middle" fill="#111" class="sk" transform="translate(295.80 374.00) rotate(-43)">0.58</text>
<text x="303.00" y="402.20" font-size="9.8" text-anchor="middle" fill="#111" class="sk">0.04</text>
<text x="357.80" y="382.00" font-size="9.8" text-anchor="middle" fill="#111" class="sk">0.5</text>
<text x="0" y="3.3" font-size="9.8" text-anchor="middle" fill="#111" class="sk" transform="translate(393.70 370.80) rotate(43)">-0.54</text>
<text x="387.80" y="400.80" font-size="9.8" text-anchor="middle" fill="#111" class="sk">-0.14</text>
<text x="416.00" y="352.40" font-size="9.8" text-anchor="middle" fill="#111" class="sk">-0.1</text>
<text x="246.60" y="431.00" font-size="9.8" text-anchor="middle" fill="#111" class="sk">-0.23</text>
<text x="0" y="3.3" font-size="9.8" text-anchor="middle" fill="#111" class="sk" transform="translate(305.90 426.00) rotate(42)">-0.23</text>
<text x="301.30" y="460.40" font-size="9.8" text-anchor="middle" fill="#111" class="sk">0.21</text>
<text x="362.30" y="431.70" font-size="9.8" text-anchor="middle" fill="#111" class="sk">-0.08</text>
<text x="419.60" y="445.40" font-size="9.8" text-anchor="middle" fill="#111" class="sk">0.03</text>
<text x="467.60" y="331.80" font-size="10.1" text-anchor="start" font-weight="bold" class="sk" fill="#111">I Path effects</text>
<rect x="516.90" y="378.20" width="9.00" height="3.53" fill="#d5d2ea"/>
<rect x="526.80" y="378.20" width="9.10" height="10.60" fill="#d5d2ea"/>
<rect x="526.80" y="378.20" width="9.10" height="10.60" fill="url(#hi)"/>
<rect x="549.65" y="378.20" width="9.00" height="34.54" fill="#efaaa6"/>
<rect x="559.55" y="378.20" width="9.10" height="36.25" fill="#efaaa6"/>
<rect x="559.55" y="378.20" width="9.10" height="36.25" fill="url(#hi)"/>
<rect x="582.40" y="378.20" width="9.00" height="2.62" fill="#b3ddd2"/>
<rect x="592.30" y="378.20" width="9.10" height="6.27" fill="#b3ddd2"/>
<rect x="592.30" y="378.20" width="9.10" height="6.27" fill="url(#hi)"/>
<rect x="615.15" y="378.20" width="9.00" height="0.23" fill="#b9cfe6"/>
<rect x="625.05" y="378.20" width="9.10" height="0.91" fill="#b9cfe6"/>
<rect x="625.05" y="378.20" width="9.10" height="0.91" fill="url(#hi)"/>
<rect x="647.90" y="378.20" width="9.00" height="41.72" fill="#eac493"/>
<rect x="657.80" y="378.20" width="9.10" height="54.49" fill="#eac493"/>
<rect x="657.80" y="378.20" width="9.10" height="54.49" fill="url(#hi)"/>
<line x1="521.50" y1="366.80" x2="521.50" y2="396.44" stroke="#333" stroke-width="1.0"/>
<line x1="520.00" y1="366.80" x2="523.00" y2="366.80" stroke="#333" stroke-width="1.0"/>
<line x1="520.00" y1="396.44" x2="523.00" y2="396.44" stroke="#333" stroke-width="1.0"/>
<line x1="531.20" y1="374.10" x2="531.20" y2="404.42" stroke="#333" stroke-width="1.0"/>
<line x1="529.70" y1="374.10" x2="532.70" y2="374.10" stroke="#333" stroke-width="1.0"/>
<line x1="529.70" y1="404.42" x2="532.70" y2="404.42" stroke="#333" stroke-width="1.0"/>
<line x1="554.25" y1="400.20" x2="554.25" y2="425.62" stroke="#333" stroke-width="1.0"/>
<line x1="552.75" y1="400.20" x2="555.75" y2="400.20" stroke="#333" stroke-width="1.0"/>
<line x1="552.75" y1="425.62" x2="555.75" y2="425.62" stroke="#333" stroke-width="1.0"/>
<line x1="563.95" y1="401.00" x2="563.95" y2="427.22" stroke="#333" stroke-width="1.0"/>
<line x1="562.45" y1="401.00" x2="565.45" y2="401.00" stroke="#333" stroke-width="1.0"/>
<line x1="562.45" y1="427.22" x2="565.45" y2="427.22" stroke="#333" stroke-width="1.0"/>
<line x1="587.00" y1="374.10" x2="587.00" y2="388.46" stroke="#333" stroke-width="1.0"/>
<line x1="585.50" y1="374.10" x2="588.50" y2="374.10" stroke="#333" stroke-width="1.0"/>
<line x1="585.50" y1="388.46" x2="588.50" y2="388.46" stroke="#333" stroke-width="1.0"/>
<line x1="596.70" y1="377.52" x2="596.70" y2="391.31" stroke="#333" stroke-width="1.0"/>
<line x1="595.20" y1="377.52" x2="598.20" y2="377.52" stroke="#333" stroke-width="1.0"/>
<line x1="595.20" y1="391.31" x2="598.20" y2="391.31" stroke="#333" stroke-width="1.0"/>
<line x1="619.75" y1="373.18" x2="619.75" y2="383.44" stroke="#333" stroke-width="1.0"/>
<line x1="618.25" y1="373.18" x2="621.25" y2="373.18" stroke="#333" stroke-width="1.0"/>
<line x1="618.25" y1="383.44" x2="621.25" y2="383.44" stroke="#333" stroke-width="1.0"/>
<line x1="629.45" y1="374.21" x2="629.45" y2="383.90" stroke="#333" stroke-width="1.0"/>
<line x1="627.95" y1="374.21" x2="630.95" y2="374.21" stroke="#333" stroke-width="1.0"/>
<line x1="627.95" y1="383.90" x2="630.95" y2="383.90" stroke="#333" stroke-width="1.0"/>
<line x1="652.50" y1="406.13" x2="652.50" y2="433.83" stroke="#333" stroke-width="1.0"/>
<line x1="651.00" y1="406.13" x2="654.00" y2="406.13" stroke="#333" stroke-width="1.0"/>
<line x1="651.00" y1="433.83" x2="654.00" y2="433.83" stroke="#333" stroke-width="1.0"/>
<line x1="662.20" y1="420.38" x2="662.20" y2="444.55" stroke="#333" stroke-width="1.0"/>
<line x1="660.70" y1="420.38" x2="663.70" y2="420.38" stroke="#333" stroke-width="1.0"/>
<line x1="660.70" y1="444.55" x2="663.70" y2="444.55" stroke="#333" stroke-width="1.0"/>
<line x1="506.60" y1="338.40" x2="506.60" y2="452.60" stroke="#2a2a2a" stroke-width="1.3"/>
<line x1="506.00" y1="451.90" x2="676.80" y2="451.90" stroke="#333" stroke-width="1.5"/>
<line x1="506.60" y1="378.50" x2="676.80" y2="378.50" stroke="#2a2a2a" stroke-width="1.0"/>
<line x1="503.60" y1="344.00" x2="506.60" y2="344.00" stroke="#2a2a2a" stroke-width="1.2"/>
<text x="501.60" y="347.50" font-size="9.3" text-anchor="end" fill="#111">0.3</text>
<line x1="503.60" y1="378.20" x2="506.60" y2="378.20" stroke="#2a2a2a" stroke-width="1.2"/>
<text x="501.60" y="381.70" font-size="9.3" text-anchor="end" fill="#111">0.0</text>
<line x1="503.60" y1="412.40" x2="506.60" y2="412.40" stroke="#2a2a2a" stroke-width="1.2"/>
<text x="501.60" y="415.90" font-size="9.3" text-anchor="end" fill="#111">-0.3</text>
<line x1="503.60" y1="446.60" x2="506.60" y2="446.60" stroke="#2a2a2a" stroke-width="1.2"/>
<text x="501.60" y="450.10" font-size="9.3" text-anchor="end" fill="#111">-0.6</text>
<line x1="526.20" y1="451.90" x2="526.20" y2="454.90" stroke="#333" stroke-width="1.2"/>
<text x="0" y="0" font-size="9.7" text-anchor="end" fill="#111" transform="translate(530.80 463.90) rotate(-30)">Direct effect</text>
<line x1="558.95" y1="451.90" x2="558.95" y2="454.90" stroke="#333" stroke-width="1.2"/>
<text x="0" y="0" font-size="9.7" text-anchor="end" fill="#111" transform="translate(563.55 463.90) rotate(-30)">Albedo effect</text>
<line x1="591.70" y1="451.90" x2="591.70" y2="454.90" stroke="#333" stroke-width="1.2"/>
<text x="0" y="0" font-size="9.7" text-anchor="end" fill="#111" transform="translate(596.30 463.90) rotate(-30)">GUD effect</text>
<line x1="624.45" y1="451.90" x2="624.45" y2="454.90" stroke="#333" stroke-width="1.2"/>
<text x="0" y="0" font-size="9.7" text-anchor="end" fill="#111" transform="translate(629.05 463.90) rotate(-30)">ΔSM effect</text>
<line x1="657.20" y1="451.90" x2="657.20" y2="454.90" stroke="#333" stroke-width="1.2"/>
<text x="0" y="0" font-size="9.7" text-anchor="end" fill="#111" transform="translate(661.80 463.90) rotate(-30)">Total effect</text>
<text x="479.80" y="395.60" font-size="12.0" text-anchor="middle" fill="#111" transform="rotate(-90 479.80 395.60)" class="big">Standardized effect</text>
<rect x="585.6" y="342.5" width="9.6" height="9.2" fill="#fff" stroke="#222" stroke-width="1"/>
<rect x="585.6" y="356.6" width="9.6" height="9.2" fill="url(#hd)" stroke="#222" stroke-width="1"/>
<text x="600.10" y="349.80" font-size="8.9" text-anchor="start" fill="#222">1982-2001 (117697)</text>
<text x="600.10" y="364.00" font-size="8.9" text-anchor="start" fill="#222">2002-2021 (123123)</text>
</svg>
</body></html>
